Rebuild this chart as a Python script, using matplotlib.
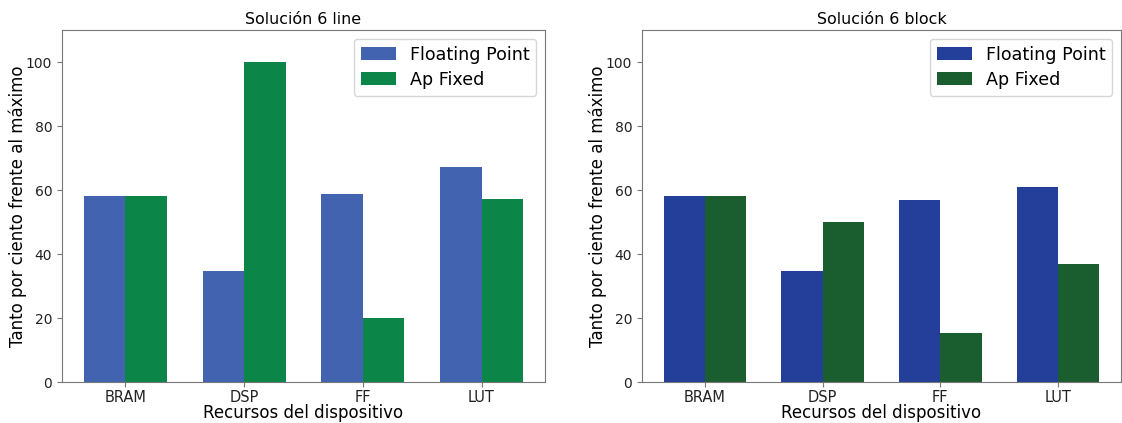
import numpy as np
import matplotlib
matplotlib.use("Agg")
import matplotlib.pyplot as plt

recursos = ["BRAM", "DSP", "FF", "LUT"]
series = ["Floating Point", "Ap Fixed"]

line_float = [58, 34.7, 58.6, 67.2]
line_fixed = [58, 100, 20, 57.2]
block_float = [58, 34.7, 56.8, 61]
block_fixed = [58, 50, 15.2, 37]

colors_line = ["#4263b0", "#0b8648"]
colors_block = ["#233f99", "#1a5e2f"]

width = 0.35
x = np.arange(len(recursos))

fig = plt.figure(figsize=(11.22, 4.23), dpi=100)
ax1 = fig.add_axes([62 / 1122, 1 - 382 / 423, 483 / 1122, 352 / 423])
ax2 = fig.add_axes([642 / 1122, 1 - 382 / 423, 479 / 1122, 352 / 423])

panels = [
    (ax1, "Solución 6 line", line_float, line_fixed, colors_line),
    (ax2, "Solución 6 block", block_float, block_fixed, colors_block),
]

for ax, title, fp, fx, cols in panels:
    ax.bar(x - width / 2, fp, width, label=series[0], color=cols[0])
    ax.bar(x + width / 2, fx, width, label=series[1], color=cols[1])
    ax.set_xticks(x)
    ax.set_xticklabels(recursos, fontsize=10.5)
    ax.tick_params(axis="y", labelsize=10)
    ax.tick_params(axis="x", pad=2.5)
    ax.set_ylim(0, 110)
    ax.set_title(title, fontsize=11.4, pad=4)
    ax.set_xlabel("Recursos del dispositivo", fontsize=12, labelpad=-1)
    ax.set_ylabel("Tanto por ciento frente al máximo", fontsize=12, labelpad=-1)
    ax.legend(loc="upper right", fontsize=12.6, labelspacing=0.4)
    for s in ax.spines.values():
        s.set_color("#777777")
    ax.tick_params(colors="#777777", labelcolor="#222222")

fig.savefig("out.png", dpi=100)
